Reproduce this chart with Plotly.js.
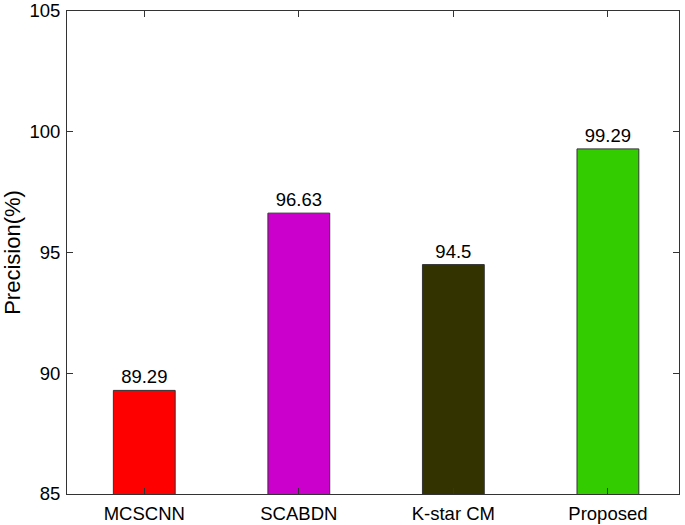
<!DOCTYPE html>
<html><head><meta charset="utf-8">
<script src="https://cdn.plot.ly/plotly-3.0.1.min.js"></script>
<style>body{margin:0;padding:0;background:#fff}</style>
</head><body>
<div id="chart" style="width:685px;height:525px"></div>
<script>
const categories = ["MCSCNN", "SCABDN", "K-star CM", "Proposed"];
const precision = [89.29, 96.63, 94.5, 99.29];
const valueLabels = ["89.29", "96.63", "94.5", "99.29"];
const barColors = ["#ff0000", "#cc00cc", "#333300", "#33cc00"];
const yTicks = [85, 90, 95, 100, 105];

const FONT = "Liberation Sans, Arial, sans-serif";

const trace = {
  type: "bar",
  x: [0, 1, 2, 3],
  y: precision,
  base: 0,
  width: 0.4,
  text: valueLabels,
  textposition: "outside",
  cliponaxis: false,
  textfont: {family: FONT, size: 18.5, color: "#000"},
  marker: {color: barColors, line: {color: "#333333", width: 1}},
  hoverinfo: "none"
};

const axisCommon = {
  showline: true, linecolor: "#333333", linewidth: 1, mirror: "ticks",
  ticks: "inside", ticklen: 6, tickcolor: "#333333", tickwidth: 1,
  showgrid: false, zeroline: false, ticklabeloverflow: "allow",
  tickfont: {family: FONT, size: 18.5, color: "#000"}
};

const layout = {
  width: 685, height: 525,
  margin: {l: 67, r: 6, t: 11, b: 31},
  paper_bgcolor: "#fff", plot_bgcolor: "#fff",
  showlegend: false,
  xaxis: Object.assign({}, axisCommon, {
    range: [-0.5, 3.46],
    tickvals: [0, 1, 2, 3],
    ticktext: categories,
    ticklabelstandoff: 3
  }),
  yaxis: Object.assign({}, axisCommon, {
    range: [85, 105],
    tickvals: yTicks,
    ticktext: yTicks.map(String),
    ticklabelstandoff: 2,
    title: {text: "Precision(%)", font: {family: FONT, size: 22, color: "#000"}, standoff: 5}
  })
};

Plotly.newPlot("chart", [trace], layout, {displayModeBar: false, staticPlot: true});
</script>
</body></html>
